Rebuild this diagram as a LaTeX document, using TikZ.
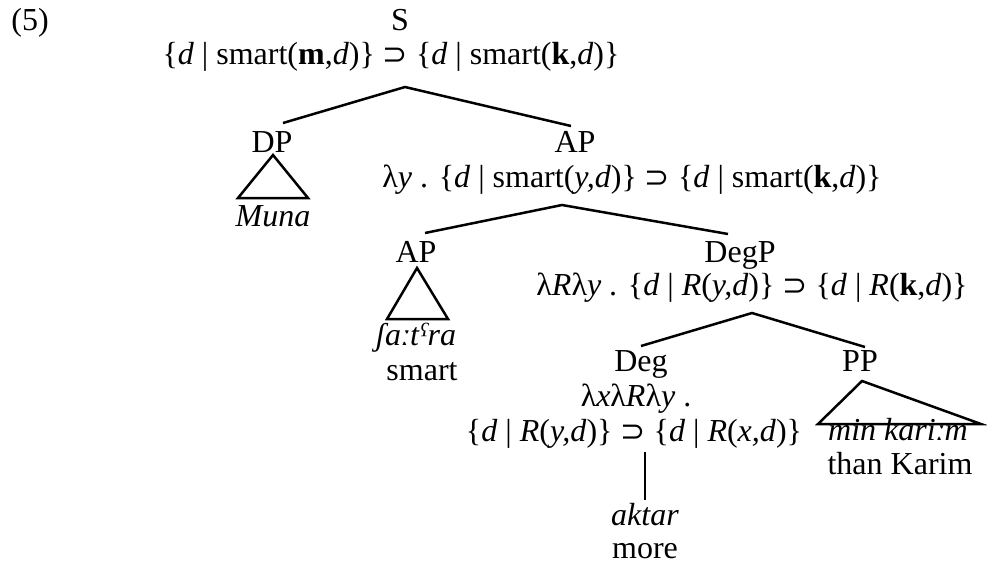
\documentclass[tikz,border=0pt]{standalone}
\usepackage{fontspec}
\setmainfont{Liberation Serif}
\newfontfamily\symf{DejaVu Sans}
\newcommand\treefs{\fontsize{32}{34}\selectfont}
\newcommand\sps{{\symf\fontsize{30}{34}\selectfont ⊃}}
\tikzset{
  lbl/.style={anchor=base, inner sep=0pt, font=\treefs},
  edge/.style={line width=2.5pt},
  tri/.style={line width=2.5pt, line join=miter}
}
\begin{document}
\begin{tikzpicture}[x=1pt,y=-1pt]
\useasboundingbox (0,0) rectangle (987,568);
% labels
\node[lbl] (ex) at (30,30) {(5)};
\node[lbl] (s) at (400,30) {S};
\node[lbl] (sf) at (391,64) {\{\textit{d} | smart(\textbf{m},\textit{d})\} \sps{} \{\textit{d} | smart(\textbf{k},\textit{d})\}};
\node[lbl] (dp) at (272,152) {DP};
\node[lbl] (muna) at (273,226) {\textit{Muna}};
\node[lbl] (ap1) at (575,152) {AP};
\node[lbl] (ap1f) at (632,187) {λ\textit{y} . \{\textit{d} | smart(\textit{y,d})\} \sps{} \{\textit{d} | smart(\textbf{k},\textit{d})\}};
\node[lbl] (ap2) at (416,262) {AP};
\node[lbl] (fatra) at (416,345) {\textit{ʃaːtˁra}};
\node[lbl] (smart) at (422,380) {smart};
\node[lbl] (degp) at (740,262) {DegP};
\node[lbl] (degpf) at (752,295) {λ\textit{R}λ\textit{y} . \{\textit{d} | \textit{R}(\textit{y,d})\} \sps{} \{\textit{d} | \textit{R}(\textbf{k},\textit{d})\}};
\node[lbl] (deg) at (641,371) {Deg};
\node[lbl] (degf1) at (636,406) {λ\textit{x}λ\textit{R}λ\textit{y} .};
\node[lbl] (degf2) at (634,441) {\{\textit{d} | \textit{R}(\textit{y,d})\} \sps{} \{\textit{d} | \textit{R}(\textit{x,d})\}};
\node[lbl] (aktar) at (645,525) {\textit{aktar}};
\node[lbl] (more) at (645,558) {more};
\node[lbl] (pp) at (860,371) {PP};
\node[lbl] (minkarim) at (898,440) {\textit{min kariːm}};
\node[lbl] (than) at (900,474) {than Karim};
% connector points
\coordinate (sA) at (405,87);
\coordinate (dpT) at (283,123);
\coordinate (ap1T) at (571,126);
\coordinate (ap1A) at (562,205);
\coordinate (ap2T) at (425,233);
\coordinate (degpT) at (728,234);
\coordinate (degpA) at (752,313);
\coordinate (degT) at (641,346);
\coordinate (ppT) at (865,347);
\coordinate (degA) at (645,452);
\coordinate (aktarT) at (645,500);
% edges
\draw[edge] (dpT) -- (sA) -- (ap1T);
\draw[edge] (ap2T) -- (ap1A) -- (degpT);
\draw[edge] (degT) -- (degpA) -- (ppT);
\draw[edge] (degA) -- (aktarT);
% triangles
\draw[tri] (273,155) -- (238,198) -- (308,198) -- cycle;
\draw[tri] (417,268) -- (387,319) -- (448,319) -- cycle;
\draw[tri] (862,381) -- (818,424) -- (981,424) -- cycle;
\end{tikzpicture}
\end{document}
